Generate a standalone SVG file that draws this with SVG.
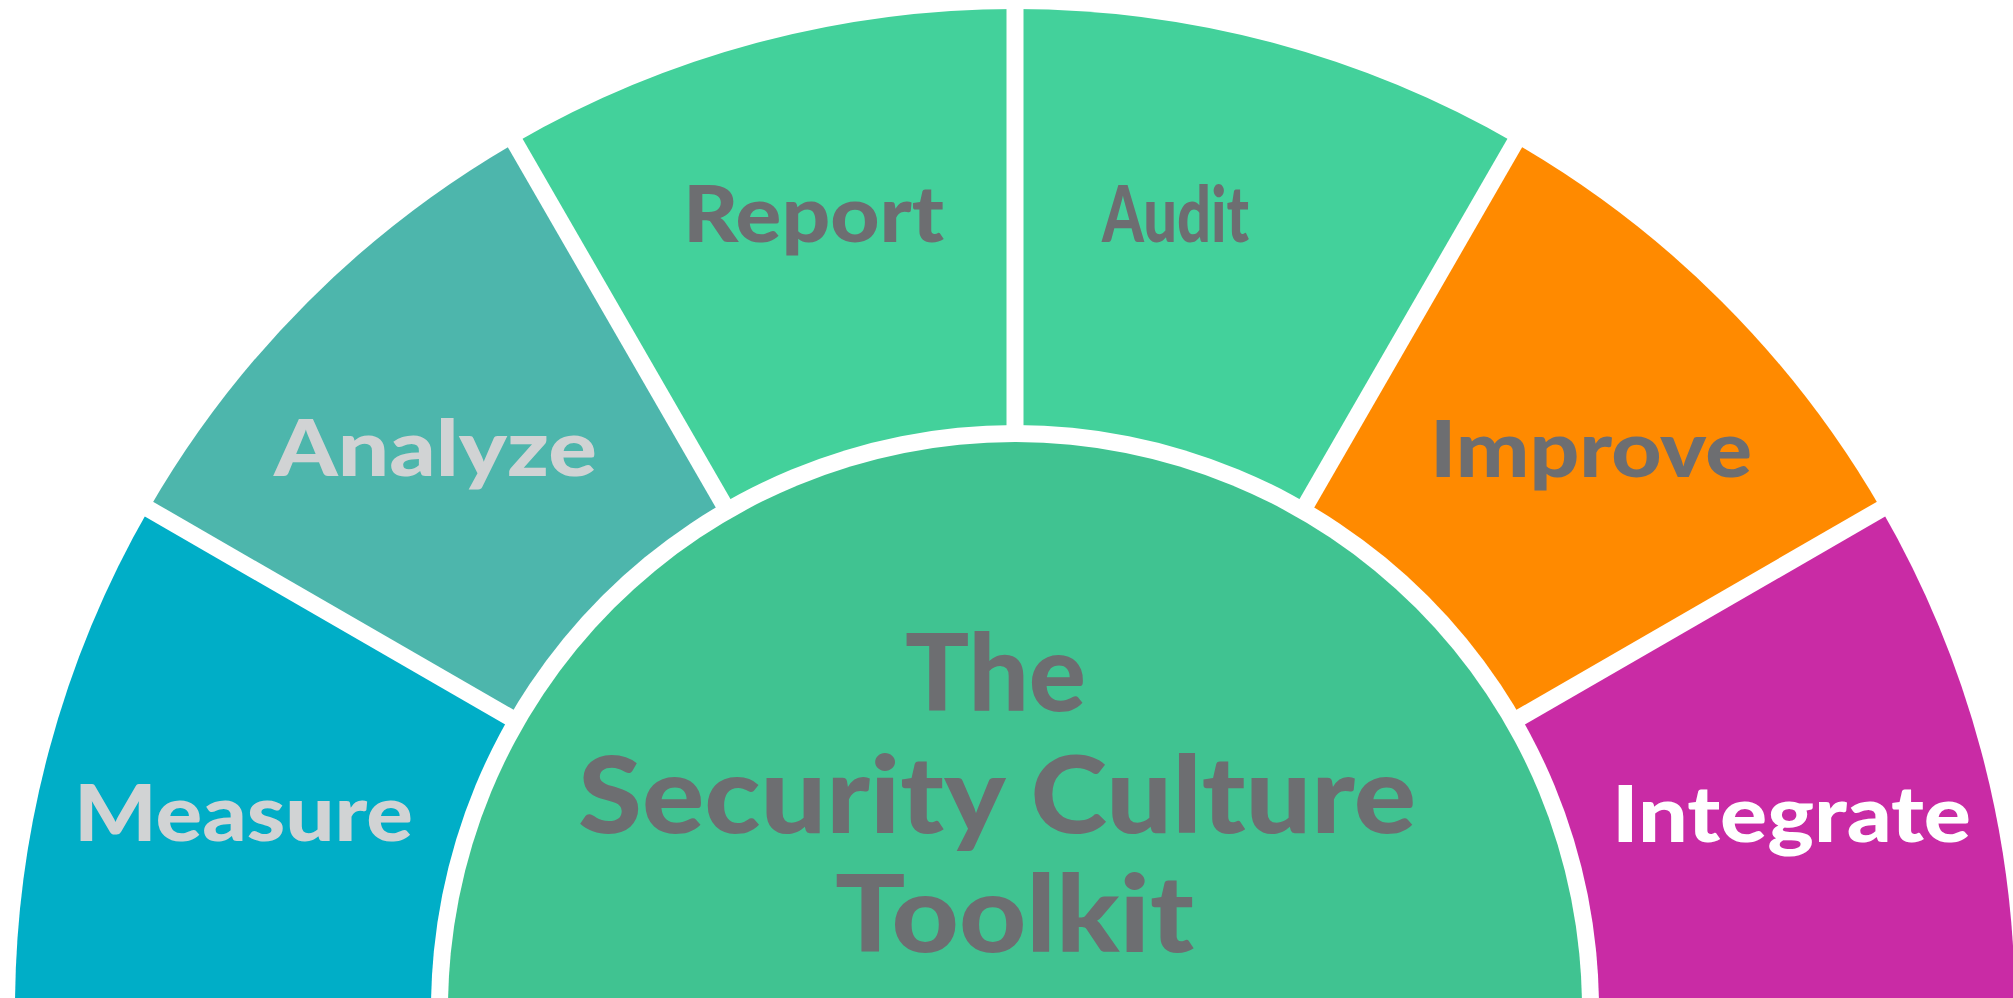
<svg xmlns="http://www.w3.org/2000/svg" width="2013" height="998" viewBox="0 0 2013 998">
  <style>
    .lbl { font-family: "Lato", "Open Sans", "Liberation Sans", sans-serif; font-weight: 900; font-size: 78px; }
    .title { font-family: "Lato", "Open Sans", "Liberation Sans", sans-serif; font-weight: 900; font-size: 106px; fill: #6D6E71; text-anchor: start; }
    .dark { fill: #6D6E71; }
    .light { fill: #D1D3D4; }
    .white { fill: #FFFFFF; }
    .divider { stroke: #FFFFFF; stroke-width: 17; fill: none; }
  </style>
  <rect width="2013" height="998" fill="#FFFFFF"/>

  <!-- outer ring: six 30-degree sectors around (1015,1009), radius 1000 -->
  <g id="measure">
    <path d="M1015 1009 L148.97 509 A1000 1000 0 0 0 15 1009 Z" fill="#00AEC7"/>
    <text class="lbl light" x="74" y="841" textLength="339" lengthAdjust="spacingAndGlyphs">Measure</text>
  </g>
  <g id="analyze">
    <path d="M1015 1009 L515 142.97 A1000 1000 0 0 0 148.97 509 Z" fill="#4DB6AC"/>
    <text class="lbl light" x="274" y="476" textLength="323" lengthAdjust="spacingAndGlyphs">Analyze</text>
  </g>
  <g id="report">
    <path d="M1015 1009 L1015 9 A1000 1000 0 0 0 515 142.97 Z" fill="#43D19B"/>
    <text class="lbl dark" x="683" y="242" textLength="261" lengthAdjust="spacingAndGlyphs">Report</text>
  </g>
  <g id="audit">
    <path d="M1015 1009 L1515 142.97 A1000 1000 0 0 0 1015 9 Z" fill="#43D19B"/>
    <text class="lbl dark" x="1102" y="242" textLength="147" lengthAdjust="spacingAndGlyphs">Audit</text>
  </g>
  <g id="improve">
    <path d="M1015 1009 L1881.03 509 A1000 1000 0 0 0 1515 142.97 Z" fill="#FF8A00"/>
    <text class="lbl dark" x="1430" y="477" textLength="322" lengthAdjust="spacingAndGlyphs">Improve</text>
  </g>
  <g id="integrate">
    <path d="M1015 1009 L2015 1009 A1000 1000 0 0 0 1881.03 509 Z" fill="#C92BA5"/>
    <text class="lbl white" x="1612" y="842" textLength="359" lengthAdjust="spacingAndGlyphs">Integrate</text>
  </g>

  <!-- white gaps between the sectors -->
  <g id="connectors">
    <line class="divider" x1="1015" y1="1009" x2="1890" y2="504"/>
    <line class="divider" x1="1015" y1="1009" x2="1520" y2="134"/>
    <line class="divider" x1="1015" y1="1009" x2="1015" y2="-5"/>
    <line class="divider" x1="1015" y1="1009" x2="510" y2="134"/>
    <line class="divider" x1="1015" y1="1009" x2="140" y2="504"/>
  </g>

  <!-- central hub -->
  <g id="hub">
    <circle cx="1015" cy="1009" r="584" fill="#FFFFFF"/>
    <circle cx="1015" cy="1009" r="567" fill="#40C391"/>
    <text class="title" x="905" y="711" textLength="181" lengthAdjust="spacingAndGlyphs">The</text>
    <text class="title" x="578" y="833" textLength="838" lengthAdjust="spacingAndGlyphs">Security Culture</text>
    <text class="title" x="835" y="952" textLength="359" lengthAdjust="spacingAndGlyphs">Toolkit</text>
  </g>
</svg>
